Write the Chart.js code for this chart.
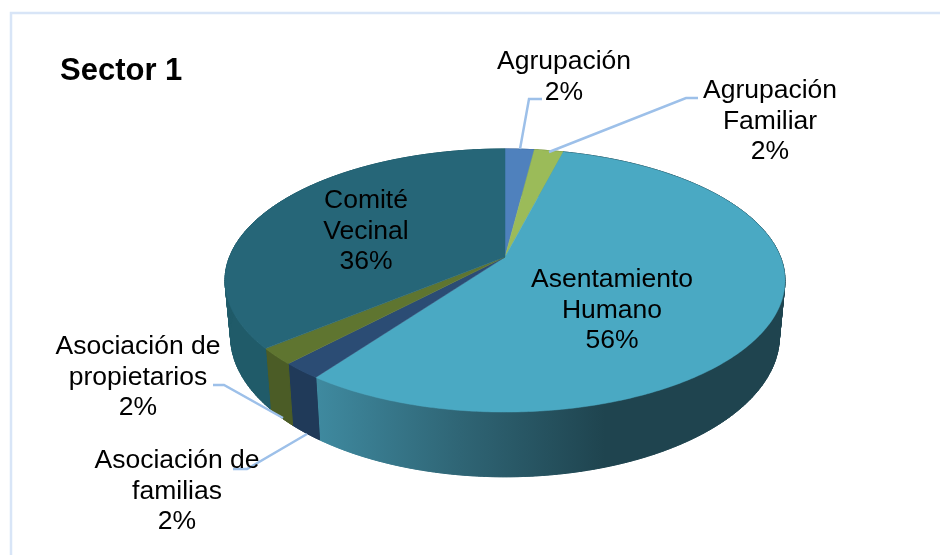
<!DOCTYPE html>
<html>
<head>
<meta charset="utf-8">
<title>Sector 1</title>
<script src="https://cdn.jsdelivr.net/npm/chart.js@4"></script>
<style>
  html, body { margin: 0; padding: 0; background: #fff; }
  canvas { display: block; }
</style>
</head>
<body>
<canvas id="myChart" width="940" height="555"></canvas>
<script>
const chartTitle = 'Sector 1';
const categories = ['Agrupación', 'Agrupación Familiar', 'Asentamiento Humano', 'Asociación de familias', 'Asociación de propietarios', 'Comité Vecinal'];
const percents = [2, 2, 56, 2, 2, 36];
// how each category name wraps in its label
const labelLines = [
    ['Agrupación'],
    ['Agrupación', 'Familiar'],
    ['Asentamiento', 'Humano'],
    ['Asociación de', 'familias'],
    ['Asociación de', 'propietarios'],
    ['Comité', 'Vecinal']
];

const topColors = ['#4f81bd', '#9bbb59', '#4aa9c3', '#2b4c74', '#5f7530', '#266678'];
const sideColors = ['#3b6290', '#758e43', null, '#203a59', '#4b5c26', '#205b69'];

// center x and first baseline of each label
const labelPos = [[564, 69], [770, 98], [612, 287], [177, 468], [138, 354], [366, 208]];
// leader lines, same order, null where the label sits on the slice
const leaders = [
    [[520, 149], [529, 99], [542, 99]],
    [[549, 152], [686, 98], [698, 98]],
    null,
    [[233, 469], [247, 469], [307, 434]],
    [[213, 385], [224, 385], [283, 418]],
    null
];

// perspective of the pie: unit circle -> picture
const persp = {cx: 505, k: 275.5, c: -0.1787, topA: 81.4, topB: 257, botK: 270, botA: 80.6, botB: 311};

function rim(angle, bottom) {
    const u = Math.cos(angle), v = Math.sin(angle);
    const d = 1 + persp.c * v;
    if (bottom) {
        return [persp.cx + persp.botK * u / d, (persp.botA * v + persp.botB) / d];
    }
    return [persp.cx + persp.k * u / d, (persp.topA * v + persp.topB) / d];
}

function rimPath(ctx, start, end, bottom) {
    const steps = Math.max(4, Math.ceil(Math.abs(end - start) * 90));
    for (let i = 0; i <= steps; i++) {
        const p = rim(start + (end - start) * i / steps, bottom);
        ctx.lineTo(p[0], p[1]);
    }
}

const pie3d = {
    id: 'pie3d',
    beforeDatasetsDraw(chart) {
        const ctx = chart.ctx;
        const arcs = chart.getDatasetMeta(0).data;

        // frame
        ctx.save();
        ctx.strokeStyle = '#d8e5f7';
        ctx.lineWidth = 2.5;
        ctx.beginPath();
        ctx.moveTo(11, 555);
        ctx.lineTo(11, 13);
        ctx.lineTo(940, 13);
        ctx.stroke();

        // walls first, the top face covers what is behind it
        const wall = ctx.createLinearGradient(315, 0, 605, 0);
        wall.addColorStop(0, '#3f8aa0');
        wall.addColorStop(0.5, '#2f6575');
        wall.addColorStop(1, '#1f444f');
        arcs.forEach((arc, i) => {
            const {startAngle, endAngle} = arc.getProps(['startAngle', 'endAngle'], true);
            const color = sideColors[i] || wall;
            ctx.fillStyle = color;
            ctx.strokeStyle = color;

            // small quads so the wall keeps its silhouette at the far left and right
            ctx.lineWidth = 1;
            const steps = Math.max(2, Math.ceil((endAngle - startAngle) * 60));
            for (let s = 0; s < steps; s++) {
                const a = startAngle + (endAngle - startAngle) * s / steps;
                const b = startAngle + (endAngle - startAngle) * (s + 1) / steps;
                ctx.beginPath();
                rimPath(ctx, a, b, false);
                rimPath(ctx, b, a, true);
                ctx.closePath();
                ctx.fill();
                ctx.stroke();
            }

            // whole band on top, hides the seams of the quads
            ctx.lineWidth = 0.5;
            ctx.beginPath();
            rimPath(ctx, startAngle, endAngle, false);
            rimPath(ctx, endAngle, startAngle, true);
            ctx.closePath();
            ctx.fill();
            ctx.stroke();
        });

        // top face
        const apex = [persp.cx, persp.topB];
        arcs.forEach((arc, i) => {
            const {startAngle, endAngle} = arc.getProps(['startAngle', 'endAngle'], true);
            ctx.beginPath();
            ctx.moveTo(apex[0], apex[1]);
            rimPath(ctx, startAngle, endAngle, false);
            ctx.closePath();
            ctx.fillStyle = topColors[i];
            ctx.strokeStyle = topColors[i];
            ctx.lineWidth = 0.5;
            ctx.fill();
            ctx.stroke();
        });
        ctx.restore();
    },
    // the library's flat arcs are replaced by the drawing above
    beforeDatasetDraw() {
        return false;
    },
    afterDatasetsDraw(chart) {
        const ctx = chart.ctx;
        ctx.save();

        ctx.strokeStyle = '#9dc0e9';
        ctx.lineWidth = 2.5;
        leaders.forEach(line => {
            if (!line) return;
            ctx.beginPath();
            line.forEach((p, n) => n ? ctx.lineTo(p[0], p[1]) : ctx.moveTo(p[0], p[1]));
            ctx.stroke();
        });

        ctx.fillStyle = '#000';
        ctx.textBaseline = 'alphabetic';
        ctx.textAlign = 'left';
        ctx.font = 'bold 31px "Liberation Sans", Arial, sans-serif';
        ctx.fillText(chartTitle, 60, 80);

        ctx.textAlign = 'center';
        ctx.font = '26.5px "Liberation Sans", Arial, sans-serif';
        categories.forEach((name, i) => {
            const lines = labelLines[i].concat(percents[i] + '%');
            lines.forEach((txt, n) => {
                ctx.fillText(txt, labelPos[i][0], labelPos[i][1] + n * 30.5);
            });
        });
        ctx.restore();
    }
};

new Chart(document.getElementById('myChart'), {
    type: 'pie',
    data: {
        labels: categories,
        datasets: [{
            label: chartTitle,
            data: percents,
            backgroundColor: topColors
        }]
    },
    options: {
        responsive: false,
        animation: false,
        plugins: {
            legend: {display: false},
            tooltip: {enabled: false}
        }
    },
    plugins: [pie3d]
});
</script>
</body>
</html>
